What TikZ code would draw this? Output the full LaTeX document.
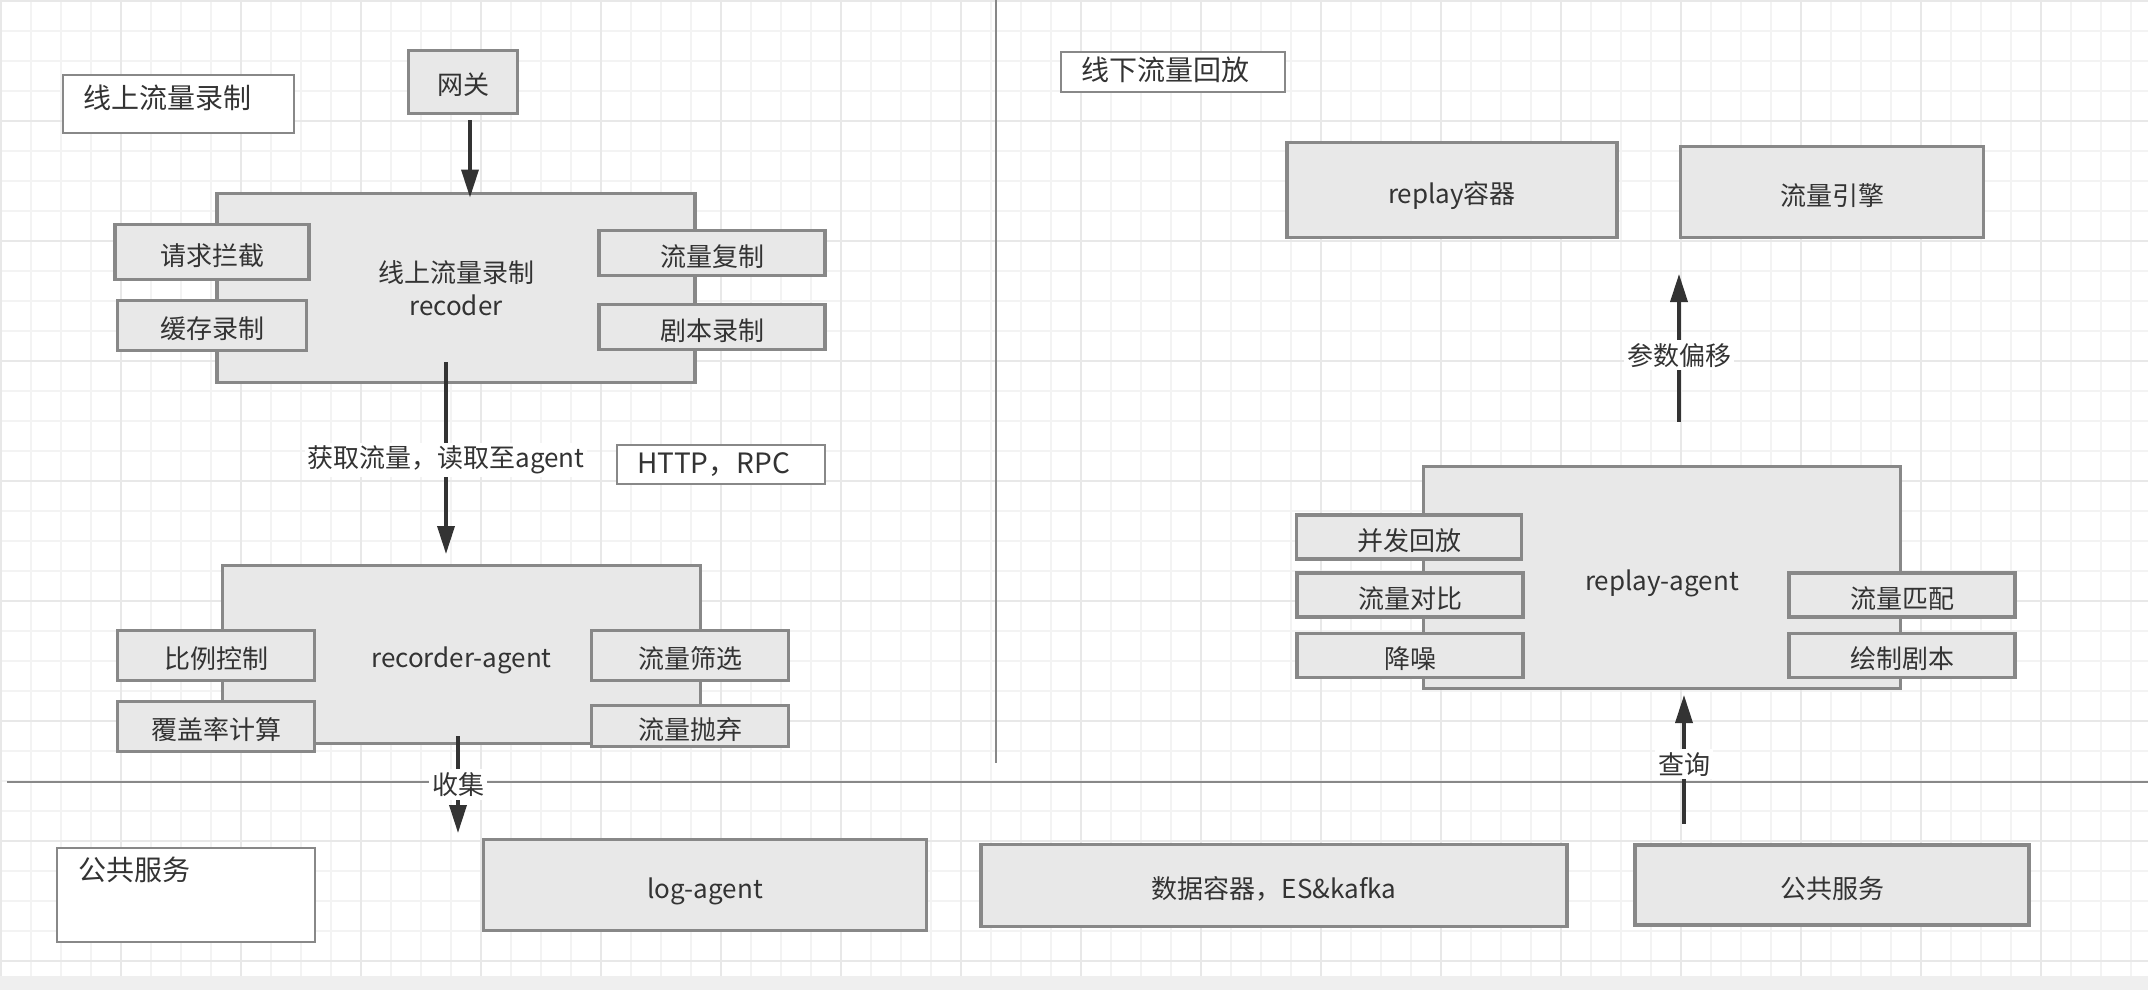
\documentclass[tikz,border=0pt]{standalone}
\usepackage{fontspec}
\setmainfont{Noto Sans CJK SC}
\usetikzlibrary{arrows.meta, calc}
\definecolor{cfill}{HTML}{E8E8E8}
\definecolor{cline}{HTML}{888888}
\definecolor{ctext}{HTML}{333333}
\definecolor{cgrid}{HTML}{F3F3F3}
\definecolor{cgridmajor}{HTML}{E8E8E8}
\definecolor{cband}{HTML}{EFEFEF}
\tikzset{
  every picture/.style={line width=2pt},
  panel/.style={draw=cline, fill=cfill, line width=3.5pt, outer sep=0pt, inner sep=0pt, align=center, text=ctext, font=\fontsize{26}{33}\selectfont},
  box/.style={panel, text height=28pt, text depth=2pt},
  titlebox/.style={draw=cline, fill=white, line width=2pt, outer sep=0pt, inner sep=0pt},
  titletext/.style={anchor=west, text=ctext, inner sep=0pt, font=\fontsize{28}{34}\selectfont},
  arrow/.style={-{Triangle[length=28pt, width=17pt]}, draw=ctext, line width=3.5pt},
  tag/.style={fill=white, text=ctext, inner sep=3pt, font=\fontsize{26}{30}\selectfont},
  sep/.style={draw=cline, line width=2pt},
}

\begin{document}
\begin{tikzpicture}[x=1pt, y=-1pt]
  \useasboundingbox (0,0) rectangle (2148,990);
  % background grid
  \fill[white] (0,0) rectangle (2148,976);
  \fill[cband] (0,976) rectangle (2148,990);
  \foreach \g in {1,31,...,2148} \draw[cgrid, line width=1.5pt] (\g,0) -- (\g,976);
  \foreach \g in {1,31,...,976} \draw[cgrid, line width=1.5pt] (0,\g) -- (2148,\g);
  \foreach \g in {1,121,...,2148} \draw[cgridmajor, line width=2pt] (\g,0) -- (\g,976);
  \foreach \g in {1,121,...,976} \draw[cgridmajor, line width=2pt] (0,\g) -- (2148,\g);
  \draw[sep, line width=1.5pt] (996,0) -- (996,763);
  \draw[sep] (7,782) -- (2148,782);

  % online recording
  \node[titlebox, minimum width=231pt, minimum height=58pt] (onT) at (178,104) {};
  \node[titletext] at ([xshift=20pt, yshift=6pt]onT.west) {线上流量录制};
  \node[box, minimum width=109pt, minimum height=63pt] (gw) at (463,82) {网关};
  \node[panel, minimum width=478pt, minimum height=189pt] (rec) at (456,288) {线上流量录制\\recoder};
  \node[box, minimum width=194pt, minimum height=55pt] (intercept) at (212,252) {请求拦截};
  \node[box, minimum width=189pt, minimum height=50pt] (cache) at (212,325.5) {缓存录制};
  \node[box, minimum width=226pt, minimum height=45pt] (copy) at (712,253) {流量复制};
  \node[box, minimum width=226pt, minimum height=45pt] (script) at (712,327) {剧本录制};
  \node[titlebox, minimum width=208pt, minimum height=39pt] (proto) at (721,464.5) {};
  \node[titletext] at ([xshift=19pt]proto.west) {HTTP，RPC};

  \node[box, minimum width=478pt, minimum height=178pt] (agent) at (461.5,654.5) {recorder-agent};
  \node[box, minimum width=197pt, minimum height=50pt] (ratio) at (216,655.5) {比例控制};
  \node[box, minimum width=197pt, minimum height=50pt] (cover) at (216,726.5) {覆盖率计算};
  \node[box, minimum width=197pt, minimum height=50pt] (filter) at (690,655.5) {流量筛选};
  \node[box, minimum width=197pt, minimum height=41pt] (drop) at (690,726) {流量抛弃};

  % offline replay
  \node[titlebox, minimum width=224pt, minimum height=40pt] (offT) at (1173,72.5) {};
  \node[titletext] at ([xshift=19pt, yshift=2.5pt]offT.west) {线下流量回放};
  \node[box, minimum width=330pt, minimum height=95pt] (container) at (1452,190) {replay容器};
  \node[box, minimum width=303pt, minimum height=91pt] (engine) at (1832,192) {流量引擎};
  \node[box, minimum width=477pt, minimum height=222pt] (replay) at (1662,577.5) {replay-agent};
  \node[box, minimum width=225pt, minimum height=44pt] (concur) at (1409,537) {并发回放};
  \node[box, minimum width=226pt, minimum height=44pt] (compare) at (1410,595) {流量对比};
  \node[box, minimum width=226pt, minimum height=44pt] (denoise) at (1410,655.3) {降噪};
  \node[box, minimum width=226pt, minimum height=44pt] (match) at (1902,595) {流量匹配};
  \node[box, minimum width=226pt, minimum height=44pt] (draw) at (1902,655.3) {绘制剧本};

  % public services
  \node[titlebox, minimum width=258pt, minimum height=94pt] (pubT) at (186,895) {};
  \node[titletext] at ([xshift=20pt, yshift=25pt]pubT.west) {公共服务};
  \node[box, minimum width=443pt, minimum height=91pt] (log) at (705,885) {log-agent};
  \node[box, minimum width=586pt, minimum height=82pt] (data) at (1274,885.5) {数据容器，ES\&kafka};
  \node[box, minimum width=394pt, minimum height=80pt] (pubS) at (1832,885) {公共服务};

  % arrows
  \draw[arrow] ([xshift=7pt, yshift=-6.5pt]gw.south) -- ([xshift=14pt, yshift=-4pt]rec.north);
  \draw[arrow] ([xshift=-10pt, yshift=20.5pt]rec.south) -- node[tag, yshift=-2pt] {获取流量，读取至agent} ([xshift=-15.5pt, yshift=11.5pt]agent.north);
  \coordinate (collect) at ([xshift=-3.5pt, yshift=7.5pt]agent.south);
  \draw[arrow] (collect) -- node[tag] {收集} ($(collect |- log.north)+(0pt,6.5pt)$);
  \draw[arrow] ([xshift=-148pt, yshift=21.5pt]pubS.north) -- node[tag, pos=0.46] {查询} ([xshift=22pt, yshift=-6.5pt]replay.south);
  \draw[arrow] ([xshift=17pt, yshift=44.8pt]replay.north) -- node[tag, pos=0.45] {参数偏移} ([xshift=-1.5pt, yshift=-36.5pt]engine.south west);
\end{tikzpicture}
\end{document}
